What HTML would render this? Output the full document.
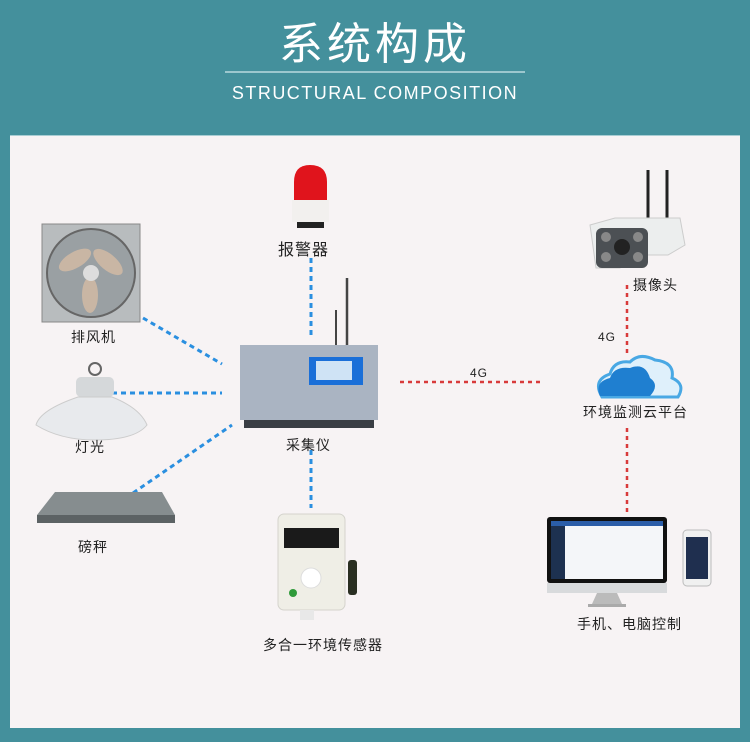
<!DOCTYPE html>
<html><head><meta charset="utf-8"><style>
body{margin:0;width:750px;height:742px;background:#44909c;position:relative;overflow:hidden;font-family:"Liberation Sans","Noto Sans CJK SC",sans-serif}
.panel{position:absolute;left:10px;top:135px;width:730px;height:592px;background:#f7f3f4;border-top:1px solid #a8cdd3}
.t{position:absolute;font-size:14px;color:#222;white-space:nowrap;letter-spacing:1px}
</style></head><body>
<div style="position:absolute;left:0;top:10px;width:750px;text-align:center;color:#fff;font-size:44px;letter-spacing:4px;font-family:'Noto Sans CJK SC',sans-serif;line-height:60px">系统构成</div>
<div style="position:absolute;left:225px;top:71px;width:300px;height:2px;background:#9cc7ce"></div>
<div style="position:absolute;left:0;top:83px;width:750px;text-align:center;color:#fff;font-size:18px;letter-spacing:1.5px">STRUCTURAL COMPOSITION</div>
<div class="panel"></div>
<svg style="position:absolute;left:0;top:0" width="750" height="742">
<g stroke="#2a8fe0" stroke-width="3" stroke-dasharray="5,4" fill="none">
<line x1="143" y1="318" x2="222" y2="364"/>
<line x1="112" y1="393" x2="222" y2="393"/>
<line x1="133" y1="493" x2="232" y2="425"/>
<line x1="311" y1="258" x2="311" y2="335"/>
<line x1="311" y1="450" x2="311" y2="508"/>
</g>
<g stroke="#d83a3a" stroke-width="2.5" stroke-dasharray="4,4" fill="none">
<line x1="400" y1="382" x2="540" y2="382"/>
<line x1="627" y1="285" x2="627" y2="357"/>
<line x1="627" y1="428" x2="627" y2="512"/>
</g>
<path d="M294 200 V182 Q294 165 310 165 Q327 165 327 182 V200Z" fill="#e0141c"/>
<rect x="292" y="200" width="37" height="22" fill="#f2f0ee"/>
<rect x="297" y="222" width="27" height="6" fill="#222"/>
<rect x="42" y="224" width="98" height="98" fill="#b8bcbe" stroke="#888"/>
<circle cx="91" cy="273" r="44" fill="#9aa0a3" stroke="#666" stroke-width="2"/>
<g fill="#c9b6a4"><ellipse cx="75" cy="260" rx="18" ry="8" transform="rotate(-30 75 260)"/><ellipse cx="108" cy="262" rx="18" ry="8" transform="rotate(40 108 262)"/><ellipse cx="90" cy="295" rx="8" ry="18"/></g>
<circle cx="91" cy="273" r="8" fill="#ddd"/>
<circle cx="95" cy="369" r="6" fill="none" stroke="#666" stroke-width="2"/>
<rect x="76" y="377" width="38" height="20" rx="5" fill="#d5d8da"/>
<path d="M78 397 Q40 410 36 425 Q60 440 95 440 Q135 440 147 425 Q140 408 112 397Z" fill="#e8eaed" stroke="#ccc"/>
<polygon points="55,492 162,492 175,515 37,515" fill="#868d8f"/>
<rect x="37" y="515" width="138" height="8" fill="#5c6264"/>
<line x1="336" y1="310" x2="336" y2="345" stroke="#444" stroke-width="2"/>
<line x1="347" y1="278" x2="347" y2="345" stroke="#444" stroke-width="2.5"/>
<rect x="240" y="345" width="138" height="75" fill="#aab4c2"/>
<rect x="244" y="420" width="130" height="8" fill="#3a3e44"/>
<rect x="309" y="357" width="54" height="28" fill="#1a6fd8"/>
<rect x="316" y="361" width="36" height="19" fill="#cfe3f5"/>
<line x1="648" y1="170" x2="648" y2="220" stroke="#222" stroke-width="3"/>
<line x1="667" y1="170" x2="667" y2="220" stroke="#222" stroke-width="3"/>
<path d="M590 225 L615 218 L680 218 L685 245 L668 255 L628 255 L620 268 L596 268Z" fill="#eceeee" stroke="#ccc"/>
<rect x="596" y="228" width="52" height="40" rx="6" fill="#4c5054"/>
<circle cx="622" cy="247" r="8" fill="#222"/>
<circle cx="606" cy="237" r="5" fill="#888"/><circle cx="638" cy="237" r="5" fill="#888"/><circle cx="606" cy="257" r="5" fill="#888"/><circle cx="638" cy="257" r="5" fill="#888"/>
<path d="M602 397 Q592 380 610 374 Q614 360 630 362 Q640 352 655 360 Q675 362 672 378 Q686 384 678 397Z" fill="#dff0fb" stroke="#49a8e4" stroke-width="3"/>
<path d="M600 396 Q594 382 610 378 Q614 366 630 368 Q645 362 650 378 Q660 385 650 396Z" fill="#1f7fd0"/>
<rect x="547" y="517" width="120" height="66" rx="3" fill="#111"/>
<rect x="551" y="521" width="112" height="58" fill="#f4f6f9"/>
<rect x="551" y="521" width="14" height="58" fill="#1d3150"/>
<rect x="551" y="521" width="112" height="5" fill="#2b5ea9"/>
<rect x="547" y="583" width="120" height="10" fill="#d8dadc"/>
<polygon points="597,593 617,593 622,604 592,604" fill="#bbb"/>
<rect x="588" y="604" width="38" height="3" fill="#aaa"/>
<rect x="683" y="530" width="28" height="56" rx="4" fill="#f0f0f0" stroke="#bbb"/>
<rect x="686" y="537" width="22" height="42" fill="#1f2f4f"/>
<rect x="278" y="514" width="67" height="96" rx="6" fill="#efeee6" stroke="#d4d3cc"/>
<rect x="284" y="528" width="55" height="20" fill="#1a1a1a"/>
<circle cx="311" cy="578" r="10" fill="#fff" stroke="#ddd"/>
<circle cx="293" cy="593" r="4" fill="#2f9a3a"/>
<rect x="348" y="560" width="9" height="35" rx="3" fill="#2a2f22"/>
<rect x="300" y="610" width="14" height="10" fill="#e8e8e8"/>
</svg>
<div class="t" style="left:278px;top:236px;font-size:16px">报警器</div>
<div class="t" style="left:71px;top:327px">排风机</div>
<div class="t" style="left:75px;top:437px">灯光</div>
<div class="t" style="left:78px;top:537px">磅秤</div>
<div class="t" style="left:286px;top:435px">采集仪</div>
<div class="t" style="left:470px;top:366px;font-size:12px">4G</div>
<div class="t" style="left:598px;top:330px;font-size:12px">4G</div>
<div class="t" style="left:633px;top:275px">摄像头</div>
<div class="t" style="left:583px;top:402px">环境监测云平台</div>
<div class="t" style="left:577px;top:614px">手机、电脑控制</div>
<div class="t" style="left:263px;top:635px">多合一环境传感器</div>
</body></html>
